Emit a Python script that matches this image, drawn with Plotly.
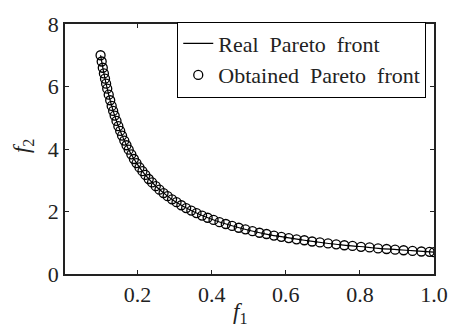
import plotly.graph_objects as go

# Real Pareto front
real_f1 = [0.10, 0.11, 0.12, 0.13, 0.14, 0.15, 0.16, 0.18, 0.20, 0.22, 0.25, 0.28, 0.30,
           0.35, 0.40, 0.45, 0.50, 0.55, 0.60, 0.65, 0.70, 0.75, 0.80, 0.85, 0.90, 0.95, 1.00]
real_f2 = [7.00, 6.36, 5.83, 5.38, 5.00, 4.67, 4.38, 3.89, 3.50, 3.18, 2.80, 2.50, 2.33,
           2.00, 1.75, 1.56, 1.40, 1.27, 1.17, 1.08, 1.00, 0.93, 0.88, 0.82, 0.78, 0.74, 0.70]

# Obtained Pareto front (estimated circle positions)
obt_f1 = [0.100, 0.103, 0.106, 0.109, 0.112, 0.115, 0.118, 0.122, 0.126, 0.130, 0.134, 0.138,
          0.143, 0.148, 0.153, 0.158, 0.164, 0.170, 0.176, 0.183, 0.190, 0.197, 0.205, 0.213,
          0.221, 0.230, 0.239, 0.249, 0.259, 0.270, 0.281, 0.293, 0.305, 0.318, 0.331, 0.345,
          0.359, 0.374, 0.389, 0.405, 0.421, 0.438, 0.455, 0.473, 0.491, 0.510, 0.529, 0.548,
          0.568, 0.588, 0.608, 0.629, 0.650, 0.671, 0.692, 0.714, 0.736, 0.758, 0.780, 0.803,
          0.826, 0.849, 0.872, 0.895, 0.918, 0.942, 0.966, 0.988, 1.000]
obt_f2 = [7.00, 6.80, 6.60, 6.42, 6.25, 6.09, 5.93, 5.74, 5.56, 5.38, 5.22, 5.07,
          4.90, 4.73, 4.58, 4.43, 4.27, 4.12, 3.98, 3.83, 3.68, 3.55, 3.41, 3.29,
          3.17, 3.04, 2.93, 2.81, 2.70, 2.59, 2.49, 2.39, 2.30, 2.20, 2.11, 2.03,
          1.95, 1.87, 1.80, 1.73, 1.66, 1.60, 1.54, 1.48, 1.43, 1.37, 1.32, 1.28,
          1.23, 1.19, 1.15, 1.11, 1.08, 1.04, 1.01, 0.98, 0.95, 0.92, 0.90, 0.87,
          0.85, 0.82, 0.80, 0.78, 0.76, 0.74, 0.72, 0.71, 0.70]

x_ticks = [0.2, 0.4, 0.6, 0.8, 1.0]
x_ticklabels = ["0.2", "0.4", "0.6", "0.8", "1.0"]
y_ticks = [0, 2, 4, 6, 8]

FONT = "Liberation Serif, Times New Roman, serif"
INK = "#222"

fig = go.Figure()
fig.add_trace(go.Scatter(x=real_f1, y=real_f2, mode="lines", name="Real  Pareto  front",
                         line=dict(color="black", width=1.2, shape="spline")))
fig.add_trace(go.Scatter(x=obt_f1, y=obt_f2, mode="markers", name="Obtained  Pareto  front",
                         marker=dict(symbol="circle-open", size=9, color="black",
                                     line=dict(width=1.3, color="black"))))

axis_common = dict(showline=True, linecolor=INK, linewidth=1.5, mirror="ticks",
                   ticks="inside", ticklen=4, tickcolor=INK, showgrid=False, zeroline=False,
                   tickfont=dict(family=FONT, size=22, color=INK))

fig.update_layout(
    width=460, height=333,
    margin=dict(l=65, r=22, t=15, b=59),
    paper_bgcolor="white", plot_bgcolor="white",
    font=dict(family=FONT, color=INK, size=22),
    showlegend=True,
    legend=dict(x=0.979, y=1.01, xanchor="right", yanchor="top",
                bgcolor="white", bordercolor="black", borderwidth=1,
                font=dict(family=FONT, size=22, color=INK),
                tracegroupgap=0, itemwidth=30),
    xaxis=dict(range=[0.004, 1.0], tickvals=x_ticks, ticktext=x_ticklabels, **axis_common),
    yaxis=dict(range=[0, 8], tickvals=y_ticks, **axis_common),
    annotations=[
        dict(text="<i>f</i><sub>1</sub>", xref="paper", yref="paper", x=0.475, y=-0.155,
             xanchor="center", yanchor="middle", showarrow=False,
             font=dict(family=FONT, size=23, color=INK)),
        dict(text="<i>f</i><sub>2</sub>", xref="paper", yref="paper", x=-0.115, y=0.51,
             xanchor="center", yanchor="middle", showarrow=False, textangle=-90,
             font=dict(family=FONT, size=23, color=INK)),
    ],
)

fig.write_html("out.html", config={"displayModeBar": False},
               post_script="document.body.style.margin='0';document.body.style.overflow='hidden';")
